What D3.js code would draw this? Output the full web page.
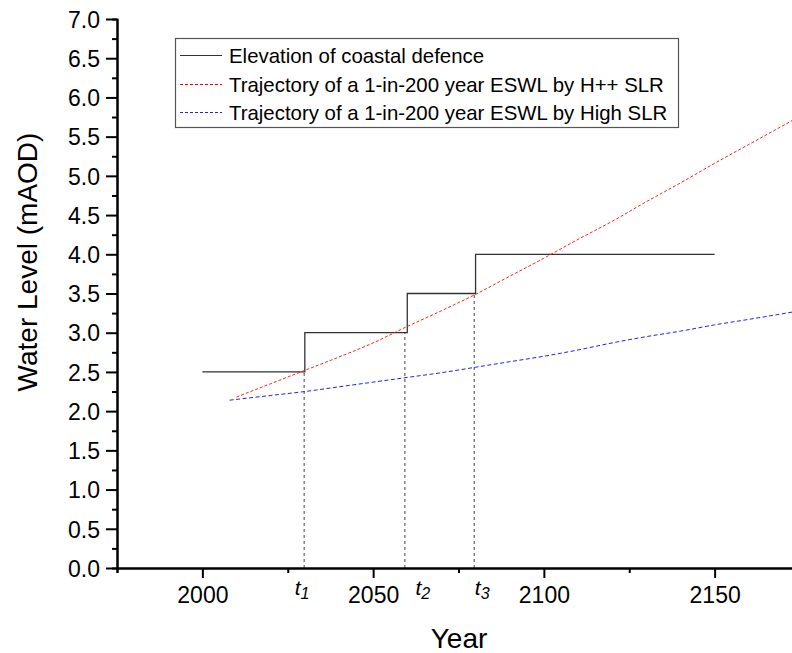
<!DOCTYPE html>
<html>
<head>
<meta charset="utf-8">
<script src="https://cdn.jsdelivr.net/npm/d3@7"></script>
<style>
body { margin: 0; background: #fff; }
text { font-family: Arial, "Liberation Sans", sans-serif; }
</style>
</head>
<body>
<div id="chart"></div>
<script>
// defence steps: [start year, end year, level]
var defenceSteps = [
    [2000, 2030, 2.5],
    [2030, 2060, 3.0],
    [2060, 2080, 3.5],
    [2080, 2150, 4.0]
];
var hppYears  = [2010, 2020, 2030, 2040, 2050, 2060, 2070, 2080, 2090, 2100, 2110, 2120, 2130, 2140, 2150, 2160, 2175];
var hppLevels = [2.18, 2.35, 2.52, 2.69, 2.87, 3.08, 3.28, 3.49, 3.72, 3.95, 4.19, 4.42, 4.67, 4.91, 5.16, 5.40, 5.76];
var highYears  = [2008, 2020, 2030, 2040, 2050, 2060, 2070, 2080, 2090, 2100, 2110, 2120, 2130, 2140, 2150, 2160, 2175];
var highLevels = [2.14, 2.20, 2.25, 2.31, 2.37, 2.43, 2.49, 2.56, 2.63, 2.70, 2.78, 2.87, 2.95, 3.02, 3.10, 3.17, 3.28];
// t1..t3: year where the H++ trajectory reaches each defence level
var tYears  = [2029.8, 2059.3, 2079.6];
var tLevels = [2.5, 3.0, 3.5];
var tNames  = ["1", "2", "3"];
var xMajorTicks = [2000, 2050, 2100, 2150];
var xMinorTicks = [1975, 2025, 2075, 2125, 2175];
var yMajorTicks = d3.range(0, 7.01, 0.5);
var yMinorTicks = d3.range(0.25, 7, 0.5);
var legendLabels = [
    "Elevation of coastal defence",
    "Trajectory of a 1-in-200 year ESWL by H++ SLR",
    "Trajectory of a 1-in-200 year ESWL by High SLR"
];

var W = 792, H = 653;
var x = d3.scaleLinear().domain([1975, 2175]).range([117, 800]);
var y = d3.scaleLinear().domain([0, 7]).range([568, 19]);

var svg = d3.select("#chart").append("svg")
    .attr("width", W).attr("height", H);

// vertical dashed markers
svg.selectAll(".tline").data(tYears).enter().append("line")
    .attr("x1", function(d) { return x(d); })
    .attr("x2", function(d) { return x(d); })
    .attr("y1", y(0))
    .attr("y2", function(d, i) { return y(tLevels[i]); })
    .attr("stroke", "#444").attr("stroke-width", 1)
    .attr("stroke-dasharray", "3,3");

// step line
var stepPts = [];
defenceSteps.forEach(function(s) {
    stepPts.push([s[0], s[2]]);
    stepPts.push([s[1], s[2]]);
});
var line = d3.line()
    .x(function(d) { return x(d[0]); })
    .y(function(d) { return y(d[1]); });

svg.append("path").datum(stepPts)
    .attr("d", line)
    .attr("fill", "none").attr("stroke", "#333").attr("stroke-width", 1.3);

svg.append("path").datum(d3.zip(hppYears, hppLevels))
    .attr("d", line.curve(d3.curveMonotoneX))
    .attr("fill", "none").attr("stroke", "#ff2020").attr("stroke-width", 1)
    .attr("stroke-dasharray", "3,2");

svg.append("path").datum(d3.zip(highYears, highLevels))
    .attr("d", line.curve(d3.curveMonotoneX))
    .attr("fill", "none").attr("stroke", "#2020ff").attr("stroke-width", 1)
    .attr("stroke-dasharray", "4,2.5");

// axes
var xAxis = svg.append("g").attr("transform", "translate(0," + y(0) + ")");
xAxis.call(d3.axisBottom(x).tickValues(xMinorTicks).tickSize(5).tickFormat(""));
xAxis.append("g").call(d3.axisBottom(x).tickValues(xMajorTicks).tickSize(10).tickSizeOuter(0).tickFormat(d3.format("d")));
xAxis.selectAll("path.domain").attr("stroke", "#000").attr("stroke-width", 2);
xAxis.selectAll(".tick line").attr("stroke", "#000").attr("stroke-width", 2);
xAxis.selectAll(".tick text")
    .attr("fill", "#000").attr("font-size", "23px").attr("dy", 0).attr("y", 35);

var yAxis = svg.append("g").attr("transform", "translate(" + x(1975) + ",0)");
yAxis.call(d3.axisLeft(y).tickValues(yMinorTicks).tickSize(5).tickFormat(""));
yAxis.append("g").call(d3.axisLeft(y).tickValues(yMajorTicks).tickSize(11).tickSizeOuter(0).tickFormat(d3.format(".1f")));
yAxis.selectAll("path.domain").attr("stroke", "#000").attr("stroke-width", 2);
yAxis.selectAll(".tick line").attr("stroke", "#000").attr("stroke-width", 2);
yAxis.selectAll(".tick text")
    .attr("fill", "#000").attr("font-size", "23px").attr("x", -17).attr("dy", "0.36em");

// t labels
var tOffsets = [-2, 18, 8];
svg.selectAll(".tlab").data(tYears).enter().append("text")
    .attr("x", function(d, i) { return x(d) + tOffsets[i]; })
    .attr("y", 595)
    .attr("text-anchor", "middle")
    .attr("font-size", "21px").attr("font-style", "italic")
    .each(function(d, i) {
        var t = d3.select(this);
        t.append("tspan").text("t");
        t.append("tspan").attr("dy", 4).attr("font-size", "16px").text(tNames[i]);
    });

// axis titles
svg.append("text").attr("x", 459).attr("y", 648)
    .attr("text-anchor", "middle").attr("font-size", "28px").text("Year");
svg.append("text")
    .attr("transform", "translate(37,262) rotate(-90)")
    .attr("text-anchor", "middle").attr("font-size", "28px").text("Water Level (mAOD)");

// legend
var legend = svg.append("g");
legend.append("rect").attr("x", 175.5).attr("y", 38.5).attr("width", 503).attr("height", 89)
    .attr("fill", "#fff").attr("stroke", "#555").attr("stroke-width", 1.2);
var legColors = ["#333", "#ff0000", "#2020ff"];
var legDash = ["none", "3,2", "3,2"];
legendLabels.forEach(function(lbl, i) {
    var cy = Math.round(55 + i * 28.5) + 0.5;
    legend.append("line").attr("x1", 180).attr("x2", 222).attr("y1", cy).attr("y2", cy)
        .style("stroke", legColors[i]).style("stroke-width", 1)
        .style("stroke-dasharray", legDash[i]);
    legend.append("text").attr("x", 229).attr("y", cy + 7)
        .attr("font-size", "20.4px").attr("fill", "#000").text(lbl);
});
</script>
</body>
</html>
